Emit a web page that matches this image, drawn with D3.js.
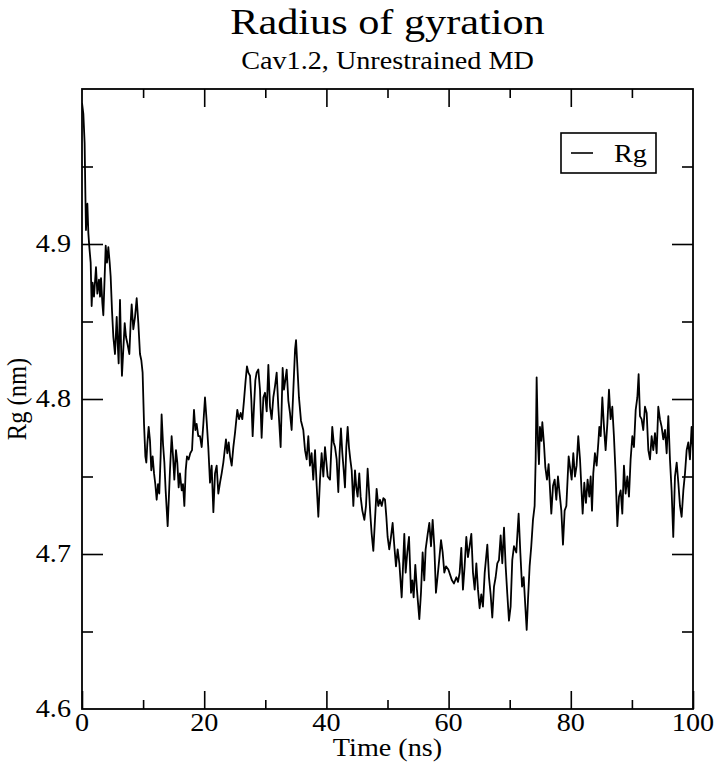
<!DOCTYPE html>
<html><head><meta charset="utf-8">
<script src="https://cdn.jsdelivr.net/npm/d3@7"></script>
<style>body{margin:0;background:#fff} text{font-family:"Liberation Serif","Times New Roman",serif;fill:#000}</style>
</head><body><svg id="c" width="716" height="770"></svg>
<script>
const titleText = "Radius of gyration";
const subtitleText = "Cav1.2, Unrestrained MD";
const xLabel = "Time (ns)";
const yLabel = "Rg (nm)";
const seriesName = "Rg";
const xMajor = [0,20,40,60,80,100];
const xMinor = [10,30,50,70,90];
const yMajor = [4.6,4.7,4.8,4.9];
const yMinor = [4.65,4.75,4.85,4.95];
const xTickLabels = ["0","20","40","60","80","100"];
const yTickLabels = ["4.6","4.7","4.8","4.9"];

const times = [
0.00,0.22,0.43,0.54,0.65,0.88,1.04,1.20,1.42,1.58,1.74,1.96,2.29,2.51,2.78,2.95,3.11,3.33,3.49,3.71,3.88,4.09,4.31,4.53,4.69,4.91,
5.13,5.40,5.68,5.84,6.00,6.22,6.38,6.54,6.76,6.99,7.20,7.42,7.75,7.96,8.13,8.40,8.68,8.95,9.22,9.49,9.71,9.92,
10.15,10.37,10.53,10.69,10.91,11.13,11.34,11.56,11.79,12.00,12.22,12.44,12.65,12.87,13.03,13.26,13.48,13.69,14.02,14.18,14.40,14.67,14.90,
15.11,15.38,15.60,15.82,16.03,16.32,16.53,16.75,16.97,17.18,17.45,17.72,18.01,18.33,18.55,18.76,19.03,
19.31,19.59,19.86,20.13,20.40,20.67,20.95,21.22,21.50,21.77,22.04,22.31,22.59,22.86,23.13,23.56,23.78,24.01,24.23,24.50,24.77,
25.04,25.42,25.70,25.97,26.24,26.51,26.78,27.00,27.23,27.50,27.72,27.93,28.15,28.37,28.58,28.86,29.13,29.40,29.68,29.95,
30.23,30.50,30.77,31.04,31.31,31.58,31.86,32.13,32.51,32.84,33.06,33.27,33.50,33.77,34.04,34.31,34.59,34.87,
35.03,35.25,35.51,35.84,36.22,36.50,36.77,37.04,37.31,37.58,37.85,38.14,38.41,38.68,38.95,39.22,39.50,39.77,
40.21,40.59,40.96,41.19,41.41,41.68,41.95,42.16,42.38,42.61,42.83,43.04,43.26,43.48,43.69,43.91,44.14,44.41,44.68,44.89,
45.11,45.38,45.60,45.88,46.21,46.48,46.75,46.97,47.18,47.41,47.68,47.95,48.22,48.49,48.77,49.05,49.32,49.59,49.81,
50.02,50.29,50.57,50.84,51.12,51.39,51.66,51.94,52.32,52.54,52.75,52.97,53.24,53.52,53.85,54.06,54.28,54.55,54.82,
55.21,55.48,55.75,56.02,56.24,56.58,56.85,57.12,57.39,57.66,57.93,58.21,58.48,58.76,59.03,59.30,59.57,59.96,
60.55,60.88,61.27,61.54,61.81,62.08,62.35,62.62,62.90,63.17,63.44,63.72,63.99,64.27,64.54,64.81,
65.08,65.35,65.62,65.91,66.34,66.61,66.88,67.15,67.43,67.70,67.97,68.24,68.52,68.79,69.07,69.34,69.61,69.88,
70.15,70.42,70.70,71.08,71.46,71.74,72.02,72.29,72.56,72.78,72.99,73.26,73.53,73.81,74.08,74.25,74.41,74.63,74.79,74.95,
75.18,75.34,75.61,75.83,76.10,76.37,76.54,76.81,77.09,77.36,77.63,77.90,78.17,78.45,78.72,78.99,79.27,79.65,
80.14,80.41,80.68,80.95,81.22,81.51,81.78,81.94,82.21,82.48,82.75,83.03,83.25,83.47,83.68,83.95,84.23,84.51,84.67,84.89,
85.16,85.43,85.70,85.98,86.25,86.52,86.79,87.06,87.33,87.62,87.89,88.16,88.43,88.70,88.97,89.25,89.52,89.79,
90.07,90.34,90.62,90.89,91.10,91.32,91.59,91.86,92.14,92.42,92.69,92.96,93.23,93.50,93.78,94.05,94.32,94.59,94.87,
95.14,95.42,95.69,95.96,96.23,96.50,96.77,97.05,97.33,97.60,97.87,98.14,98.42,98.69,98.96,99.23,99.50,99.77,100.00
];
const rg = [
4.991,4.984,4.965,4.935,4.909,4.926,4.907,4.898,4.888,4.860,4.875,4.866,4.885,4.868,4.877,4.866,4.878,4.862,4.854,4.879,4.899,4.888,4.898,4.888,4.879,4.857,
4.840,4.829,4.853,4.836,4.823,4.864,4.836,4.815,4.832,4.849,4.840,4.836,4.829,4.849,4.861,4.845,4.853,4.865,4.849,4.829,4.825,4.817,
4.784,4.763,4.759,4.771,4.782,4.773,4.754,4.763,4.752,4.745,4.735,4.745,4.739,4.763,4.790,4.771,4.759,4.741,4.718,4.733,4.754,4.776,4.763,
4.748,4.767,4.759,4.743,4.752,4.741,4.745,4.731,4.754,4.763,4.761,4.765,4.767,4.793,4.780,4.784,4.776,
4.776,4.769,4.784,4.801,4.786,4.769,4.746,4.757,4.727,4.752,4.757,4.739,4.746,4.752,4.759,4.774,4.765,4.772,4.763,4.757,4.769,
4.778,4.793,4.787,4.791,4.787,4.799,4.812,4.821,4.817,4.815,4.799,4.776,4.795,4.812,4.817,4.819,4.806,4.775,4.801,4.804,
4.792,4.822,4.795,4.787,4.801,4.808,4.817,4.795,4.769,4.820,4.806,4.812,4.819,4.799,4.791,4.780,4.806,4.832,
4.838,4.821,4.801,4.786,4.780,4.767,4.761,4.776,4.757,4.765,4.748,4.767,4.744,4.724,4.748,4.765,4.750,4.769,
4.750,4.748,4.782,4.772,4.769,4.761,4.740,4.765,4.781,4.765,4.754,4.743,4.769,4.782,4.769,4.761,4.754,4.731,4.754,4.743,
4.737,4.752,4.737,4.728,4.722,4.731,4.755,4.741,4.726,4.713,4.702,4.722,4.742,4.731,4.735,4.731,4.736,4.735,4.724,
4.711,4.703,4.711,4.720,4.705,4.692,4.703,4.694,4.672,4.692,4.713,4.688,4.701,4.711,4.675,4.683,4.672,4.693,4.677,
4.658,4.675,4.701,4.683,4.703,4.713,4.720,4.705,4.722,4.705,4.675,4.686,4.697,4.709,4.701,4.688,4.692,4.690,
4.683,4.681,4.685,4.682,4.688,4.704,4.677,4.692,4.711,4.698,4.705,4.713,4.688,4.677,4.694,4.677,
4.665,4.674,4.666,4.688,4.706,4.685,4.674,4.659,4.679,4.685,4.694,4.696,4.712,4.694,4.717,4.692,4.674,4.657,
4.666,4.696,4.705,4.701,4.726,4.701,4.679,4.685,4.666,4.651,4.670,4.692,4.705,4.722,4.731,4.761,4.814,4.771,4.758,4.782,
4.773,4.785,4.771,4.756,4.748,4.758,4.746,4.726,4.744,4.748,4.735,4.750,4.739,4.728,4.706,4.728,4.731,4.763,
4.748,4.765,4.750,4.757,4.776,4.761,4.739,4.726,4.746,4.733,4.748,4.737,4.750,4.728,4.752,4.765,4.757,4.772,4.782,4.776,
4.801,4.782,4.767,4.784,4.806,4.787,4.795,4.776,4.752,4.718,4.737,4.741,4.726,4.757,4.739,4.750,4.737,4.761,
4.776,4.769,4.793,4.801,4.816,4.789,4.787,4.780,4.795,4.791,4.767,4.761,4.776,4.767,4.778,4.765,4.795,4.787,4.782,
4.774,4.780,4.765,4.789,4.761,4.741,4.711,4.750,4.759,4.746,4.731,4.724,4.741,4.752,4.767,4.772,4.761,4.782,4.767
];

const svg = d3.select("#c");
const L = 82, R = 693, T = 89, B = 709;
const x = d3.scaleLinear().domain([0,100]).range([L,R]);
const y = d3.scaleLinear().domain([4.6,5.0]).range([B,T]);
const SX = 1.15;
const FS = 24.5;

svg.append("rect").attr("width",716).attr("height",770).attr("fill","#fff");

svg.append("clipPath").attr("id","clip").append("rect")
  .attr("x",L).attr("y",T).attr("width",R-L).attr("height",B-T);

const line = d3.line().x((d,i)=>x(times[i])).y(d=>y(d));
svg.append("path").datum(rg).attr("d",line).attr("clip-path","url(#clip)")
  .attr("fill","none").attr("stroke","#000").attr("stroke-width",1.8).attr("stroke-linejoin","round");

function ticks(gen, tx, ty){
  svg.append("g").attr("transform",`translate(${tx},${ty})`).call(gen)
    .call(g=>g.select(".domain").remove())
    .call(g=>g.selectAll("line").attr("stroke","#000").attr("stroke-width",1.6))
    .call(g=>g.selectAll("text").remove());
}
ticks(d3.axisBottom(x).tickValues(xMajor).tickSize(-18).tickSizeOuter(0), 0, B);
ticks(d3.axisBottom(x).tickValues(xMinor).tickSize(-9).tickSizeOuter(0), 0, B);
ticks(d3.axisTop(x).tickValues(xMajor.slice(1,-1)).tickSize(-18).tickSizeOuter(0), 0, T);
ticks(d3.axisTop(x).tickValues(xMinor).tickSize(-9).tickSizeOuter(0), 0, T);
ticks(d3.axisLeft(y).tickValues(yMajor.slice(1)).tickSize(-21).tickSizeOuter(0), L, 0);
ticks(d3.axisLeft(y).tickValues(yMinor).tickSize(-11).tickSizeOuter(0), L, 0);
ticks(d3.axisRight(y).tickValues(yMajor.slice(1)).tickSize(-21).tickSizeOuter(0), R, 0);
ticks(d3.axisRight(y).tickValues(yMinor).tickSize(-11).tickSizeOuter(0), R, 0);

svg.append("rect").attr("x",L).attr("y",T).attr("width",R-L).attr("height",B-T)
  .attr("fill","none").attr("stroke","#000").attr("stroke-width",1.8);

function stext(str, px, py, size, anchor, sx){
  return svg.append("text").attr("transform",`translate(${px},${py}) scale(${sx},1)`)
    .attr("text-anchor",anchor).attr("font-size",size).text(str);
}
xMajor.forEach((v,i)=>stext(xTickLabels[i], x(v), 731, FS, "middle", SX));
yMajor.forEach((v,i)=>stext(yTickLabels[i], 71, y(v)+8.3, FS, "end", SX));

stext(titleText, (L+R)/2, 34, 36.75, "middle", SX);
stext(subtitleText, (L+R)/2, 69, FS, "middle", SX);
stext(xLabel, (L+R)/2, 756, FS, "middle", SX);
svg.append("text").attr("transform",`translate(26,${(T+B)/2}) scale(${SX},1) rotate(-90)`)
  .attr("text-anchor","middle").attr("font-size",FS).text(yLabel);

// legend
svg.append("rect").attr("x",561).attr("y",133).attr("width",95).attr("height",40)
  .attr("fill","#fff").attr("stroke","#000").attr("stroke-width",1.6);
svg.append("line").attr("x1",571).attr("x2",593).attr("y1",153).attr("y2",153)
  .attr("stroke","#000").attr("stroke-width",1.6);
stext(seriesName, 614, 161.5, FS, "start", SX);
</script></body></html>
